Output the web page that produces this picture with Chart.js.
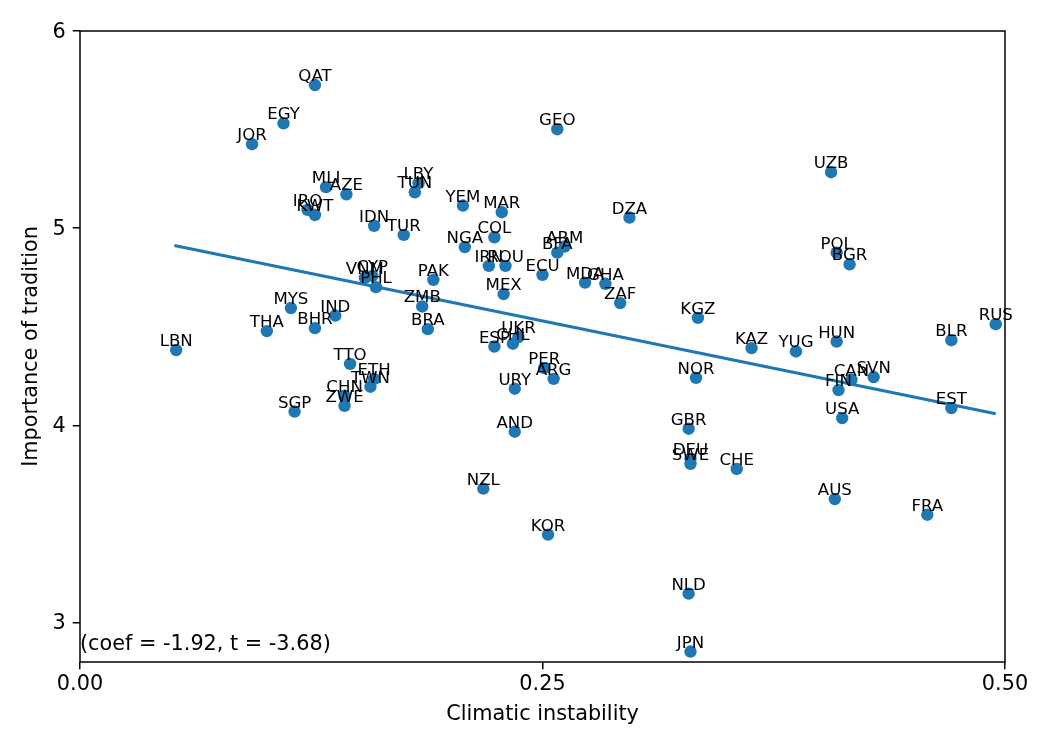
<!DOCTYPE html>
<html>
<head>
<meta charset="utf-8">
<script src="https://cdn.jsdelivr.net/npm/chart.js@4.4.1/dist/chart.umd.min.js"></script>
<style>
  body { margin: 0; background: #fff; }
</style>
</head>
<body>
<canvas id="tradChart" width="1050" height="750"></canvas>
<script>
// values
const countries = ['QAT','EGY','JOR','MLI','AZE','IRQ','KWT','LBY','TUN','IDN','TUR','YEM','MAR','GEO','DZA','COL','NGA','ARM','BFA','IRN','ROU','ECU','MDA','GHA','ZAF','MEX','PAK','VNM','CYP','PHL','MYS','IND','THA','BHR','ZMB','BRA','LBN','TTO','ETH','TWN','CHN','ZWE','SGP','ESP','CHL','UKR','PER','ARG','URY','AND','NZL','KOR','KGZ','NOR','GBR','DEU','SWE','CHE','NLD','JPN','KAZ','YUG','HUN','UZB','POL','BGR','CAN','SVN','FIN','USA','EST','BLR','RUS','AUS','FRA'];
const instability = [0.127,0.110,0.093,0.133,0.144,0.123,0.127,0.183,0.181,0.159,0.175,0.207,0.228,0.258,0.297,0.224,0.208,0.262,0.258,0.221,0.230,0.250,0.273,0.284,0.292,0.229,0.191,0.154,0.158,0.160,0.114,0.138,0.101,0.127,0.185,0.188,0.052,0.146,0.159,0.157,0.143,0.143,0.116,0.224,0.234,0.237,0.251,0.256,0.235,0.235,0.218,0.253,0.334,0.333,0.329,0.330,0.330,0.355,0.329,0.330,0.363,0.387,0.409,0.406,0.409,0.416,0.417,0.429,0.410,0.412,0.471,0.471,0.495,0.408,0.458];
const tradition = [5.726,5.532,5.426,5.208,5.172,5.093,5.067,5.228,5.182,5.012,4.966,5.115,5.081,5.502,5.054,4.954,4.904,4.907,4.876,4.809,4.809,4.763,4.724,4.718,4.620,4.666,4.738,4.748,4.758,4.701,4.595,4.557,4.478,4.493,4.603,4.488,4.382,4.312,4.236,4.196,4.150,4.099,4.070,4.400,4.414,4.448,4.291,4.236,4.186,3.968,3.679,3.446,4.545,4.241,3.983,3.831,3.805,3.779,3.147,2.853,4.392,4.375,4.425,5.284,4.876,4.817,4.231,4.245,4.179,4.037,4.088,4.432,4.513,3.626,3.547];
const fitX = [0.051, 0.495];
const fitY = [4.912, 4.059];
const xTicks = [0, 0.25, 0.5];
const yTicks = [3, 4, 5, 6];
const statText = '(coef = -1.92, t = -3.68)';

Chart.defaults.font.family = "'DejaVu Sans', sans-serif";
Chart.defaults.color = '#000';

const blue = '#1f77b4';

// country codes over each dot, frame and the stats note
const labelPlugin = {
    id: 'labels',
    afterDatasetsDraw(chart) {
        const c = chart.ctx;
        const xs = chart.scales.x, ys = chart.scales.y;
        const a = chart.chartArea;
        c.save();
        c.fillStyle = '#000';
        c.font = "16.6px 'DejaVu Sans'";
        c.textAlign = 'center';
        c.textBaseline = 'alphabetic';
        countries.forEach((name, i) => {
            c.fillText(name, xs.getPixelForValue(instability[i]), ys.getPixelForValue(tradition[i]) - 4);
        });
        c.font = "20.8px 'DejaVu Sans'";
        c.textAlign = 'left';
        c.fillText(statText, a.left, a.bottom - 12);
        c.strokeStyle = '#000';
        c.lineWidth = 1.5;
        c.strokeRect(a.left, a.top, a.right - a.left, a.bottom - a.top);
        c.restore();
    }
};

const ctx = document.getElementById('tradChart').getContext('2d');
const tradChart = new Chart(ctx, {
    type: 'scatter',
    data: {
        datasets: [{
            data: instability.map((v, i) => ({x: v, y: tradition[i]})),
            backgroundColor: blue,
            borderWidth: 0,
            pointRadius: 6.2,
            order: 1
        }, {
            type: 'line',
            data: fitX.map((v, i) => ({x: v, y: fitY[i]})),
            borderColor: blue,
            borderWidth: 3.1,
            pointRadius: 0,
            fill: false,
            order: 0
        }]
    },
    options: {
        responsive: false,
        animation: false,
        layout: { padding: { top: 31, right: 45, left: 0, bottom: 0 } },
        plugins: {
            legend: { display: false },
            tooltip: { enabled: false }
        },
        scales: {
            x: {
                type: 'linear',
                min: 0,
                max: 0.5,
                afterBuildTicks: s => { s.ticks = xTicks.map(v => ({value: v})); },
                afterFit: s => { s.height = 88; },
                ticks: {
                    font: { size: 20.8 },
                    padding: 3,
                    maxRotation: 0,
                    callback: v => v.toFixed(2)
                },
                grid: { display: true, drawOnChartArea: false, drawTicks: true, tickLength: 7.3, color: '#000', lineWidth: 1.5 },
                border: { display: false },
                title: {
                    display: true,
                    text: 'Climatic instability',
                    font: { size: 20.8 },
                    padding: { top: 0, bottom: 22.5 }
                }
            },
            y: {
                type: 'linear',
                min: 2.8,
                max: 6,
                afterBuildTicks: s => { s.ticks = yTicks.map(v => ({value: v})); },
                afterFit: s => { s.width = 80; },
                ticks: {
                    font: { size: 20.8 },
                    padding: 7,
                    labelOffset: 1.5,
                    callback: v => String(v)
                },
                grid: { display: true, drawOnChartArea: false, drawTicks: true, tickLength: 7.3, color: '#000', lineWidth: 1.5 },
                border: { display: false },
                title: {
                    display: true,
                    text: 'Importance of tradition',
                    font: { size: 20.8 },
                    padding: { top: 19.5, bottom: 0 }
                }
            }
        }
    },
    plugins: [labelPlugin]
});
</script>
</body>
</html>
